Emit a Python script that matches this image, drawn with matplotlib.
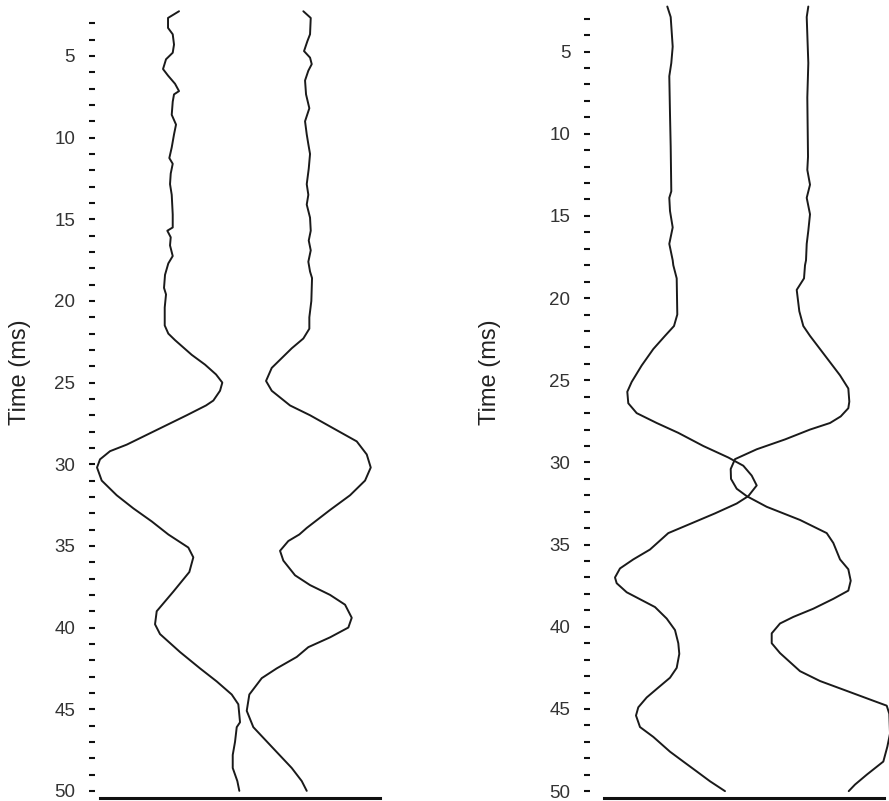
import matplotlib
matplotlib.use("Agg")
import matplotlib.pyplot as plt
from matplotlib.ticker import FixedLocator

plt.rcParams['font.family'] = ['Liberation Sans', 'DejaVu Sans']

# left panel, two traces (time in ms, lateral position in a.u.)
t_a = [2.26, 2.67, 3.28, 3.67, 4.3, 4.8, 5.2, 5.8, 6.2, 6.7, 7.15, 7.35, 7.8, 8.6, 9.2, 9.8,
       10.6, 11.25, 11.6, 12.2, 12.85, 13.5, 14.7, 15.5, 15.7, 16.1, 16.6, 17.25, 17.7, 18.4,
       19.2, 19.6, 20.4, 21.5, 22.0, 22.4, 23.3, 23.9, 24.5, 25.0, 25.5, 26.1, 26.4, 27.0,
       27.6, 28.2, 28.8, 29.2, 29.7, 30.2, 31.0, 31.9, 32.7, 33.5, 34.3, 35.1, 35.7, 36.6,
       37.8, 39.0, 39.8, 40.4, 41.5, 42.5, 43.3, 44.1, 44.7, 45.8, 46.1, 47.0, 47.8, 48.6,
       49.4, 50.0]
x_a = [79, 68, 68, 72.7, 74, 72.7, 66, 63, 68, 75, 79, 74, 72.7, 71.7, 76, 74,
       71.7, 69.3, 72.7, 70.7, 70, 71.7, 72.7, 72.7, 67.3, 70.7, 70, 72.7, 68.3, 65,
       64, 66, 64.7, 64.7, 68.3, 75, 91.7, 105, 116, 122.3, 120, 113.3, 106, 86.7,
       66.7, 46.7, 26.7, 10, 0, -3, 1.7, 16.7, 33.3, 51.7, 68.3, 88.3, 93.3, 89.3,
       73.3, 56.7, 55, 60, 80, 100, 116.7, 131.7, 138.3, 140, 136.7, 135, 132.7, 132.7,
       137.3, 139.3]

t_b = [2.26, 2.67, 3.67, 4.1, 4.7, 5.1, 5.5, 5.9, 6.5, 7.35, 8.2, 9.0, 9.8, 10.4, 11.0,
       11.9, 12.85, 13.5, 14.1, 14.9, 15.7, 16.3, 16.9, 17.6, 18.2, 18.6, 20.0, 21.0, 21.7,
       22.3, 22.9, 23.5, 24.1, 24.9, 25.5, 26.4, 27.0, 27.8, 28.6, 29.4, 30.2, 31.0, 31.9,
       32.8, 33.9, 34.3, 34.7, 35.3, 35.9, 36.8, 37.4, 38.0, 38.6, 39.4, 40.0, 40.6, 41.2,
       41.8, 42.5, 43.1, 44.1, 45.1, 46.1, 47.3, 48.6, 49.4, 50.0]
x_b = [203.3, 210.7, 210, 207.3, 204, 210, 211.7, 208.3, 205, 206, 209.3, 205, 206.7, 208.3, 210,
       208.7, 206.7, 208.3, 206.7, 210, 210.7, 208.7, 210.7, 208.3, 210, 212, 211.3, 209.3, 209.3,
       203.3, 191.7, 181.7, 171.7, 166, 171.7, 190, 210, 233.3, 256.7, 266.7, 270.7, 265, 250,
       230, 206.7, 199.3, 188.3, 180, 183.3, 195, 210, 230, 245, 251.7, 248.3, 230, 208.3,
       196.7, 176.7, 161.7, 149.3, 146.7, 153.3, 171.7, 191.7, 201.7, 206.7]

# right panel, two traces
t_c = [2.26, 2.9, 4.7, 5.7, 6.5, 8.8, 10.8, 13.5, 13.9, 14.7, 15.7, 16.7, 17.7, 18.0, 18.8,
       21.0, 21.7, 22.3, 23.1, 24.1, 25.1, 25.7, 26.4, 27.0, 27.6, 28.2, 29.0, 29.7, 30.2,
       30.8, 31.4, 32.05, 32.5, 33.1, 33.7, 34.3, 35.3, 35.9, 36.45, 37.0, 37.35, 37.9, 38.8,
       39.5, 40.2, 41.0, 41.65, 42.5, 43.1, 43.7, 44.3, 44.9, 45.4, 46.1, 46.7, 47.6, 48.2,
       48.8, 49.4, 50.0]
x_c = [63.3, 66.7, 68.7, 67.3, 65.3, 66, 66.7, 67.3, 65.3, 66, 68.7, 65.3, 68.7, 69.3, 72.7,
       73.3, 70, 61, 49.3, 37.7, 27.7, 23.3, 24.3, 32.7, 52.7, 74.3, 99.3, 124.3, 139.3,
       147.7, 152.7, 144.3, 132.7, 111, 87.7, 64.3, 46, 29.3, 16, 11, 12.7, 22.7, 51,
       62.7, 71, 74.3, 75.3, 72.7, 66, 54.3, 42.7, 34.3, 32, 36, 49.3, 66, 79.3,
       92.7, 106, 121]

t_d = [2.26, 2.9, 5.7, 7.8, 11.4, 12.2, 13.1, 13.9, 14.9, 15.9, 16.7, 17.7, 18.0, 18.8, 19.5,
       20.8, 21.7, 22.3, 23.1, 23.9, 24.7, 25.5, 26.3, 26.7, 27.2, 27.6, 28.0, 28.6, 29.2,
       29.8, 30.4, 31.0, 31.6, 32.05, 32.7, 33.5, 34.3, 34.9, 35.9, 36.5, 37.2, 37.8, 38.3,
       38.9, 39.4, 39.8, 40.4, 41.0, 41.6, 42.7, 43.3, 43.9, 44.5, 44.8, 45.3, 46.5, 47.3,
       48.2, 49.0, 49.6, 50.0]
x_d = [204.3, 202.7, 204.3, 203.3, 204, 203.3, 206, 202.7, 206, 204.3, 202.7, 202, 201, 200, 192.7,
       195.3, 199.3, 206, 216, 226, 236, 244.3, 245.3, 244.3, 236.7, 226, 206, 181, 152.7,
       131, 126.7, 127, 132.7, 142.7, 162.7, 196, 222.7, 229.3, 236, 244.3, 246.7, 244.3, 229.3,
       209.3, 189.3, 176, 167.7, 167.7, 176, 196, 216, 242.7, 269.3, 282.7, 285.3, 286, 283.3,
       279.3, 262.7, 251, 244.7]

major_ticks = [5, 10, 15, 20, 25, 30, 35, 40, 45, 50]
minor_ticks = [t for t in range(3, 51) if t % 5 != 0]

fig = plt.figure(figsize=(8.89, 8.01), dpi=100)
ax1 = fig.add_axes([0.1125, 0.0037, 0.315, 0.99])
ax2 = fig.add_axes([0.6794, 0.0037, 0.315, 0.99])


def style(ax, ylim, offset):
    ax.set_xlim(0, 280)
    ax.set_ylim(*ylim)
    for side in ['top', 'right', 'left']:
        ax.spines[side].set_visible(False)
    ax.spines['left'].set_position(('outward', offset))
    ax.spines['bottom'].set_linewidth(2.2)
    ax.spines['bottom'].set_color('#111111')
    ax.yaxis.set_major_locator(FixedLocator(major_ticks))
    ax.yaxis.set_minor_locator(FixedLocator(minor_ticks))
    ax.tick_params(axis='y', which='both', length=4.3, width=1.5,
                   color='#111111', direction='out')
    ax.tick_params(axis='y', which='major', labelsize=13.5, pad=10,
                   labelcolor='#333333')
    ax.tick_params(axis='x', bottom=False, labelbottom=False)
    ax.patch.set_alpha(0)


style(ax1, (50.44, 1.88), 3.6)
style(ax2, (50.42, 2.17), 10)

for ax, traces in [(ax1, [(x_a, t_a), (x_b, t_b)]), (ax2, [(x_c, t_c), (x_d, t_d)])]:
    for xs, ts in traces:
        ax.plot(xs, ts, color='#1a1a1a', lw=1.4, clip_on=False,
                solid_joinstyle='round', solid_capstyle='round')

fig.text(0.0225, 0.5356, 'Time (ms)', rotation=90, fontsize=17,
         color='#222222', ha='center', va='center')
fig.text(0.551, 0.5356, 'Time (ms)', rotation=90, fontsize=17,
         color='#222222', ha='center', va='center')

fig.savefig('out.png', dpi=100)
